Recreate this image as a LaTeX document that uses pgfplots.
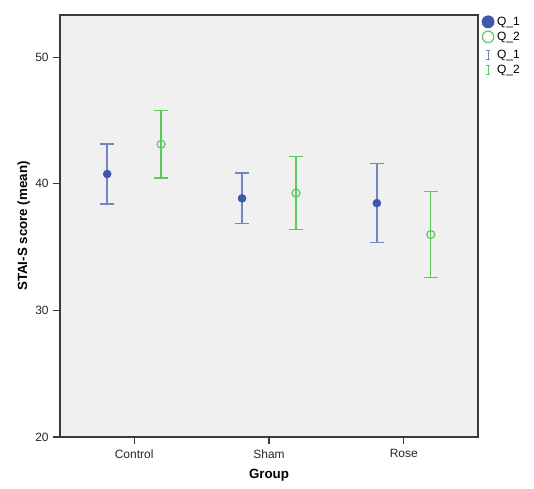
\documentclass[border=0pt]{standalone}
\usepackage{pgfplots}
\pgfplotsset{compat=1.18}
\usepackage{fontspec}
\setmainfont{Liberation Sans}
\definecolor{qblue}{HTML}{3E58AC}
\definecolor{qblueerr}{HTML}{7485C4}
\definecolor{qgreen}{HTML}{5CC860}
\definecolor{bgc}{HTML}{F0F0F0}
\definecolor{framec}{HTML}{3A3A3A}
\pgfplotstableread{
x y ep em
-0.2 40.77 2.37 2.37
0.8 38.85 1.99 1.97
1.8 38.47 3.11 3.11
}\qone
\pgfplotstableread{
x y ep em
0.2 43.12 2.67 2.67
1.2 39.27 2.90 2.90
2.2 35.99 3.40 3.39
}\qtwo
\begin{document}
\begin{tikzpicture}
\path[use as bounding box] (-45pt,-38.25pt) rectangle (355.5pt,327.75pt);
\begin{axis}[
  at={(0,0)}, anchor=south west,
  scale only axis, width=313.5pt, height=316.5pt,
  xmin=-0.55, xmax=2.55, ymin=20, ymax=53.33,
  xtick={0,1,2}, xticklabels={Control,Sham,Rose},
  ytick={20,30,40,50},
  tick pos=left, tick align=outside,
  major tick length=5pt,
  axis background/.style={fill=bgc},
  axis line style={framec, line width=0.8pt},
  every tick/.style={framec, line width=0.8pt},
  /pgf/number format/assume math mode=true,
  tick label style={font=\fontsize{9}{11}\selectfont, text=black!85},
  xlabel={\textbf{Group}}, ylabel={\textbf{STAI-S score (mean)}},
  label style={font=\fontsize{11}{13}\selectfont, text=black!90},
  every axis y label/.style={at={(axis description cs:-0.087,0.5)}, rotate=90, anchor=center},
  every axis x label/.style={at={(axis description cs:0.5,-0.09)}, anchor=center},
  xticklabel style={yshift=-1pt},
  legend style={at={(axis description cs:1.005,1.003)}, anchor=north west, draw=none, fill=none,
    font=\fontsize{9}{10}\selectfont, inner xsep=1pt, inner ysep=0pt, row sep=-0.5pt,
    cells={anchor=west}},
  legend cell align=left,
]
\addlegendimage{legend image code/.code={\fill[qblue] (0pt,0pt) circle (4.6pt);}}
\addlegendentry{Q\_1}
\addlegendimage{legend image code/.code={\draw[qgreen, line width=0.9pt] (0pt,0pt) circle (4.3pt);}}
\addlegendentry{Q\_2}
\addlegendimage{legend image code/.code={\path (0pt,8pt); \draw[qblueerr, line width=0.8pt] (0pt,-3.5pt)--(0pt,3.5pt) (-1.8pt,3.5pt)--(1.8pt,3.5pt) (-1.8pt,-3.5pt)--(1.8pt,-3.5pt);}}
\addlegendentry{Q\_1}
\addlegendimage{legend image code/.code={\draw[qgreen, line width=0.8pt] (0pt,-3.5pt)--(0pt,3.5pt) (-1.8pt,3.5pt)--(1.8pt,3.5pt) (-1.8pt,-3.5pt)--(1.8pt,-3.5pt);}}
\addlegendentry{Q\_2}

\addplot[only marks, mark=*, mark size=3pt, color=qblue, mark options={fill=qblue, draw=qblue},
  error bars/.cd, y dir=both, y explicit, error mark=|,
  error bar style={qblueerr, line width=1.1pt},
  error mark options={qblueerr, line width=1.1pt, mark size=5.25pt}]
  table[x=x, y=y, y error plus=ep, y error minus=em] {\qone};
\addplot[only marks, mark=o, mark size=3pt, color=qgreen, mark options={draw=qgreen, line width=0.9pt},
  error bars/.cd, y dir=both, y explicit, error mark=|,
  error bar style={qgreen, line width=1.0pt},
  error mark options={qgreen, line width=1.0pt, mark size=5.25pt}]
  table[x=x, y=y, y error plus=ep, y error minus=em] {\qtwo};
\end{axis}
\end{tikzpicture}
\end{document}
